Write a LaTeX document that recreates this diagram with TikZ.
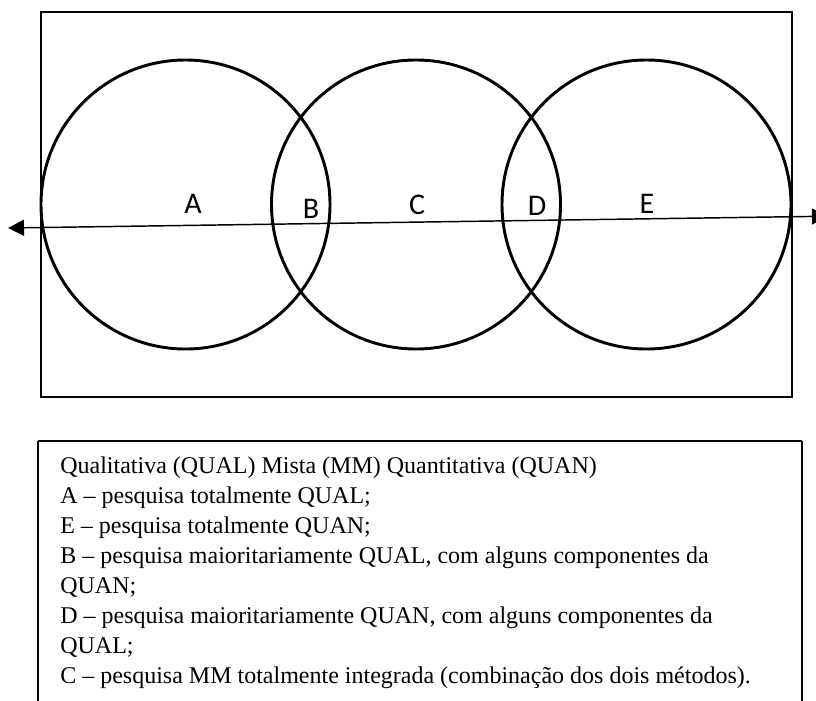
\documentclass[tikz,border=0pt]{standalone}
\usepackage{fontspec}
\setmainfont{Liberation Serif}
\newfontfamily\labelfont{Carlito}
\usetikzlibrary{arrows.meta}

\begin{document}
\begin{tikzpicture}[x=0.75pt,y=-0.75pt,
  region/.style={font=\labelfont\fontsize{22.5}{27}\selectfont},
  legendline/.style={anchor=base west,inner sep=0pt,font=\fontsize{18}{22.5}\selectfont},
  ring/.style={line width=2.2pt}]
  \useasboundingbox (0,0) rectangle (816,700);
  % outer frame
  \draw[line width=1.5pt] (41,12) rectangle (792,397);
  % the three circles
  \draw[ring] (185.5,204.5) circle (144.5);
  \draw[ring] (416,204.5) circle (144.5);
  \draw[ring] (646.5,204.5) circle (144.5);
  % continuum line
  \coordinate (lt) at (8,228);
  \coordinate (rt) at (828,216.2);
  \draw[line width=1.1pt,{Triangle[length=12pt,width=12pt]}-{Triangle[length=12pt,width=12pt]}] (lt) -- (rt);
  % regions
  \node[region] (A) at (193,204) {A};
  \node[region] (B) at (311,209) {B};
  \node[region] (C) at (417,205) {C};
  \node[region] (D) at (537,206) {D};
  \node[region] (E) at (647,204) {E};
  % legend
  \draw[line width=1.5pt] (38,441) -- (802,441);
  \draw[line width=1.5pt] (38,441) -- (38,712);
  \draw[line width=1.5pt] (802,441) -- (802,712);
  \node[legendline] (l1) at (60,473) {Qualitativa (QUAL) Mista (MM) Quantitativa (QUAN)};
  \node[legendline] (l2) at (60,503) {A – pesquisa totalmente QUAL;};
  \node[legendline] (l3) at (60,533) {E – pesquisa totalmente QUAN;};
  \node[legendline] (l4) at (60,563) {B – pesquisa maioritariamente QUAL, com alguns componentes da};
  \node[legendline] (l5) at (60,593) {QUAN;};
  \node[legendline] (l6) at (60,623) {D – pesquisa maioritariamente QUAN, com alguns componentes da};
  \node[legendline] (l7) at (60,653) {QUAL;};
  \node[legendline] (l8) at (60,683) {C – pesquisa MM totalmente integrada (combinação dos dois métodos).};
\end{tikzpicture}
\end{document}
